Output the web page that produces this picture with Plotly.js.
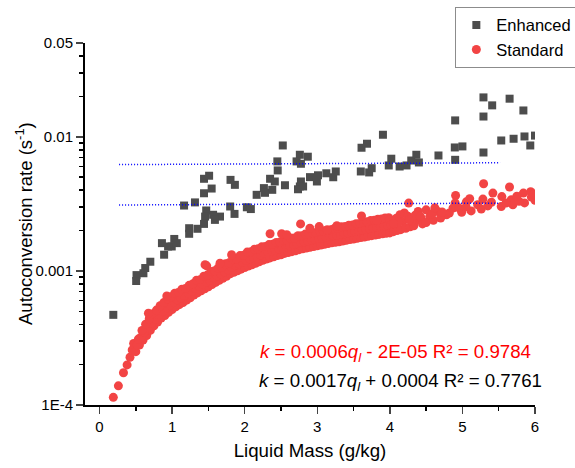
<!DOCTYPE html>
<html>
<head>
<meta charset="utf-8">
<script src="https://cdn.plot.ly/plotly-3.0.1.min.js"></script>
<style>html,body{margin:0;padding:0;background:#fff}#chart{width:575px;height:468px}</style>
</head>
<body>
<div id="chart"></div>
<script>
// Enhanced (grey squares)
const enhancedX = [0.19,0.51,0.505,0.605,0.63,0.70,0.86,0.89,0.945,0.995,
  1.03,1.065,1.235,1.235,1.35,1.165,1.315,1.44,1.545,1.44,
  1.51,1.47,1.455,1.44,1.565,1.66,1.59,1.805,1.865,1.80,
  1.86,2.03,2.085,2.165,2.265,2.28,2.35,2.38,2.415,2.45,
  2.455,2.525,2.555,2.76,2.715,2.87,2.775,2.76,2.735,2.775,
  2.805,2.90,2.995,3.01,3.125,3.22,3.255,3.905,3.61,3.685,
  3.60,3.715,3.75,4.02,3.985,4.135,4.23,4.295,4.365,4.40,
  4.67,4.90,4.895,5.0,4.90,5.29,5.41,5.29,5.29,5.65,
  5.84,5.535,5.705,5.855,5.935,6.0];
const enhancedY = [0.00047,0.00093,0.00084,0.00096,0.00105,0.00117,0.00161,0.00132,0.00152,0.00152,
  0.00173,0.00161,0.00208,0.00189,0.00206,0.00307,0.00324,0.00379,0.00411,0.00486,
  0.00512,0.00282,0.00254,0.00224,0.00262,0.00254,0.0024,0.00477,0.00438,0.00302,
  0.00266,0.00298,0.00289,0.00369,0.00414,0.00382,0.00486,0.00402,0.00464,0.00655,
  0.00561,0.00861,0.00435,0.00734,0.00655,0.0071,0.00629,0.00426,0.00406,0.00464,
  0.00426,0.005,0.00464,0.00516,0.00534,0.00499,0.00551,0.01035,0.00828,0.00887,
  0.00551,0.00542,0.00583,0.00686,0.00611,0.006,0.00611,0.00665,0.00734,0.00643,
  0.00725,0.01324,0.00832,0.00847,0.00673,0.01965,0.01714,0.01415,0.00763,0.01922,
  0.0157,0.00938,0.00966,0.01005,0.00861,0.0102];

// Standard (red circles) - in several groups
const stdEarlyX = [0.19,0.26,0.33,0.38,0.42,0.45,0.47];
const stdEarlyY = [1.14e-4,1.39e-4,1.74e-4,1.99e-4,2.27e-4,2.57e-4,2.88e-4];

const stdLowX = [0.50,0.55,0.60,0.65,0.70,0.75,0.80,0.85,0.90,0.95,
  1.00,1.05,1.10,1.15,1.20,1.25,1.30,1.35,1.40,1.45,
  1.50,1.55,1.60,1.65,1.70,1.75,1.80,1.85,1.90,1.95,
  2.00,2.05,2.10,2.15,2.20,2.25,2.30,2.35,2.40,2.45,
  2.50,2.55,2.60,2.65,2.70,2.75,2.80,2.85,2.90,2.95,
  3.00,3.05,3.10,3.15,3.20,3.25,3.30,3.35,3.40,3.45,
  3.50,3.55,3.60,3.65,3.70,3.75,3.80,3.85,3.90,3.95,4.00];
const stdLowY = [2.5e-4,2.8e-4,3.05e-4,3.3e-4,3.6e-4,3.9e-4,4.15e-4,4.45e-4,4.65e-4,4.9e-4,
  5.15e-4,5.4e-4,5.6e-4,5.8e-4,6.05e-4,6.3e-4,6.6e-4,6.85e-4,7.1e-4,7.35e-4,
  7.6e-4,7.9e-4,8.2e-4,8.5e-4,8.8e-4,9.1e-4,9.5e-4,9.75e-4,10.0e-4,10.3e-4,
  10.6e-4,10.85e-4,11.1e-4,11.4e-4,11.7e-4,12.0e-4,12.25e-4,12.5e-4,12.75e-4,13.0e-4,
  13.2e-4,13.5e-4,13.7e-4,13.9e-4,14.1e-4,14.4e-4,14.6e-4,14.8e-4,15.0e-4,15.2e-4,
  15.4e-4,15.6e-4,15.8e-4,16.0e-4,16.2e-4,16.35e-4,16.5e-4,16.7e-4,16.9e-4,17.1e-4,
  17.3e-4,17.5e-4,17.7e-4,17.9e-4,18.1e-4,18.3e-4,18.5e-4,18.7e-4,18.9e-4,19.05e-4,19.2e-4];

const stdMidX = [0.52,0.57,0.62,0.67,0.72,0.77,0.82,0.87,0.92,0.97,
  1.02,1.07,1.12,1.17,1.22,1.27,1.32,1.37,1.42,1.47,
  1.52,1.57,1.62,1.67,1.72,1.77,1.82,1.87,1.92,1.97,
  2.02,2.07,2.12,2.17,2.22,2.27,2.32,2.37,2.42,2.47,
  2.52,2.57,2.62,2.67,2.72,2.77,2.82,2.87,2.92,2.97,
  3.02,3.07,3.12,3.17,3.22,3.27,3.32,3.37,3.42,3.47,
  3.52,3.57,3.62,3.67,3.72,3.77,3.82,3.87,3.92,3.97];
const stdMidY = [2.8e-4,3.2e-4,3.5e-4,3.8e-4,4.1e-4,4.4e-4,4.7e-4,5.0e-4,5.3e-4,5.55e-4,
  5.85e-4,6.1e-4,6.3e-4,6.55e-4,6.8e-4,7.05e-4,7.4e-4,7.7e-4,7.95e-4,8.25e-4,
  8.55e-4,8.9e-4,9.2e-4,9.5e-4,9.85e-4,10.2e-4,10.65e-4,11.0e-4,11.3e-4,11.65e-4,
  12.0e-4,12.3e-4,12.6e-4,12.9e-4,13.2e-4,13.5e-4,13.8e-4,14.05e-4,14.3e-4,14.6e-4,
  14.85e-4,15.15e-4,15.4e-4,15.7e-4,15.95e-4,16.3e-4,16.5e-4,16.75e-4,16.95e-4,17.15e-4,
  17.4e-4,17.6e-4,17.85e-4,18.05e-4,18.3e-4,18.5e-4,18.7e-4,18.95e-4,19.2e-4,19.45e-4,
  19.7e-4,19.95e-4,20.2e-4,20.45e-4,20.7e-4,20.95e-4,21.2e-4,21.45e-4,21.7e-4,21.9e-4];

const stdHighX = [0.535,0.585,0.635,0.685,0.735,0.785,0.835,0.885,0.935,0.985,
  1.035,1.085,1.135,1.185,1.235,1.285,1.335,1.385,1.435,1.485,
  1.535,1.585,1.635,1.685,1.735,1.785,1.835,1.885,1.935,1.985,
  2.035,2.085,2.135,2.185,2.235,2.285,2.335,2.385,2.435,2.485,
  2.535,2.585,2.635,2.685,2.735,2.785,2.835,2.885,2.935,2.985,
  3.035,3.085,3.135,3.185,3.235,3.285,3.335,3.385,3.435,3.485,
  3.535,3.585,3.635,3.685,3.735,3.785,3.835,3.885,3.935,3.985];
const stdHighY = [3.1e-4,3.6e-4,4.0e-4,4.4e-4,4.8e-4,5.1e-4,5.5e-4,5.8e-4,6.2e-4,6.4e-4,
  6.8e-4,6.9e-4,7.3e-4,7.4e-4,7.8e-4,8.0e-4,8.5e-4,8.6e-4,9.1e-4,9.3e-4,
  9.9e-4,10.0e-4,10.5e-4,10.6e-4,11.3e-4,11.5e-4,12.2e-4,12.3e-4,13.0e-4,13.1e-4,
  13.8e-4,13.9e-4,14.5e-4,14.6e-4,15.1e-4,15.2e-4,15.7e-4,15.8e-4,16.3e-4,16.4e-4,
  16.9e-4,17.0e-4,17.6e-4,17.6e-4,18.3e-4,18.3e-4,18.8e-4,18.8e-4,19.2e-4,19.3e-4,
  19.7e-4,19.8e-4,20.2e-4,20.3e-4,20.7e-4,20.8e-4,21.3e-4,21.4e-4,21.9e-4,22.0e-4,
  22.5e-4,22.6e-4,23.1e-4,23.2e-4,23.7e-4,23.8e-4,24.3e-4,24.4e-4,24.8e-4,24.9e-4];

const stdOutX = [0.674,0.927,1.454,1.477,1.66,1.82,2.35,2.509,2.58,2.77,2.898,3.026,3.136,3.27,3.61,3.82,4.26];
const stdOutY = [4.83e-4,6.5e-4,1.11e-3,1.09e-3,1.14e-3,1.32e-3,1.89e-3,1.89e-3,1.86e-3,2.24e-3,2.08e-3,2.14e-3,2.02e-3,2.17e-3,2.57e-3,2.37e-3,3.2e-3];

const stdTailX = [5.292,5.649,4.906,5.42,5.543,5.84,5.94,5.054,5.282,5.673,
  5.695,5.856,6.0,4.90,5.21,5.40,5.535,5.26,5.12,4.99,
  4.87,4.82,4.78,4.66,4.55,4.50,4.39,4.37,4.43,4.20,
  4.14,4.0,4.02,4.18,4.09,4.05,4.1,4.15,4.22,4.28,
  4.33,4.45,4.5,4.6,4.7,4.3,4.25,4.12,4.05,4.35,
  4.58,4.72,4.95,5.05,5.35,5.6,5.78,5.95,5.75,5.98,
  5.1,4.62,4.42,4.27];
const stdTailY = [4.46e-3,4.22e-3,3.65e-3,3.8e-3,3.58e-3,3.8e-3,3.89e-3,3.27e-3,3.43e-3,3.39e-3,
  3.11e-3,3.21e-3,3.36e-3,3.21e-3,3.11e-3,3.25e-3,3.02e-3,2.89e-3,2.8e-3,2.73e-3,
  2.94e-3,2.7e-3,2.62e-3,2.77e-3,2.54e-3,2.85e-3,2.77e-3,2.4e-3,2.47e-3,2.7e-3,
  2.62e-3,2.4e-3,2.2e-3,2.33e-3,2.47e-3,1.96e-3,2.0e-3,2.03e-3,2.08e-3,2.13e-3,
  2.17e-3,2.24e-3,2.29e-3,2.38e-3,2.48e-3,2.35e-3,2.55e-3,2.3e-3,2.25e-3,2.6e-3,
  2.65e-3,2.75e-3,2.95e-3,3.0e-3,3.05e-3,3.2e-3,3.3e-3,3.55e-3,3.6e-3,3.75e-3,
  3.45e-3,2.95e-3,2.55e-3,2.4e-3];

// reference lines (blue dotted)
const refUpperX = [0.27, 5.52];
const refUpperY = [0.0062, 0.0064];
const refLowerX = [0.27, 5.52];
const refLowerY = [0.0031, 0.0032];

const xTicks = [0,1,2,3,4,5,6];
const yTickVals = [1e-4, 0.001, 0.01, 0.05];
const yTickText = ['1E-4', '0.001', '0.01', '0.05'];

const standardX = [].concat(stdEarlyX, stdLowX, stdMidX, stdHighX, stdOutX, stdTailX);
const standardY = [].concat(stdEarlyY, stdLowY, stdMidY, stdHighY, stdOutY, stdTailY);

const yMinor = [];
[1e-4, 1e-3, 1e-2].forEach(function(d){ for (let m = 2; m <= 9; m++) { if (m*d < 0.05) yMinor.push(m*d); } });
const xMinor = [0.5,1.5,2.5,3.5,4.5,5.5];

const font = 'Arial, "Liberation Sans", sans-serif';

const data = [
  {x: enhancedX, y: enhancedY, type: 'scatter', mode: 'markers', name: 'Enhanced',
   marker: {symbol: 'square', size: 8, color: '#4d4d4d'}},
  {x: standardX, y: standardY, type: 'scatter', mode: 'markers', name: 'Standard',
   marker: {symbol: 'circle', size: 9, color: '#f24444'}},
  {x: refUpperX, y: refUpperY, type: 'scatter', mode: 'lines', showlegend: false, hoverinfo: 'skip',
   line: {color: '#0000ff', width: 1.5, dash: '1px,2px'}},
  {x: refLowerX, y: refLowerY, type: 'scatter', mode: 'lines', showlegend: false, hoverinfo: 'skip',
   line: {color: '#0000ff', width: 1.5, dash: '1px,2px'}}
];

const layout = {
  width: 575, height: 468,
  margin: {l: 85, r: 40, t: 43, b: 63, autoexpand: false},
  paper_bgcolor: '#fff', plot_bgcolor: '#fff',
  font: {family: font, color: '#000', size: 15},
  showlegend: true,
  legend: {x: 0.823, y: 1.1, xanchor: 'left', yanchor: 'top', bgcolor: '#fff',
    bordercolor: '#8c8c8c', borderwidth: 1, font: {size: 16.5, family: font}, tracegroupgap: 0},
  xaxis: {
    range: [-0.2, 6], tickmode: 'array', tickvals: xTicks, ticks: 'outside', ticklen: 7, tickwidth: 1.5,
    showline: true, linewidth: 2, linecolor: '#000', showgrid: false, zeroline: false,
    tickfont: {size: 15, family: font},
    minor: {tickmode: 'array', tickvals: xMinor, ticks: 'outside', ticklen: 4, tickwidth: 1.5, tickcolor: '#000', showgrid: false},
    title: {text: 'Liquid Mass (g/kg)', font: {size: 18.7, family: font}, standoff: 10},
    automargin: false
  },
  yaxis: {
    type: 'log', range: [-4, Math.log10(0.05)], tickmode: 'array', tickvals: yTickVals, ticktext: yTickText,
    ticks: 'outside', ticklen: 7, tickwidth: 1.5,
    showline: true, linewidth: 2, linecolor: '#000', showgrid: false, zeroline: false,
    tickfont: {size: 15, family: font},
    minor: {tickmode: 'array', tickvals: yMinor, ticks: 'outside', ticklen: 4, tickwidth: 1.5, tickcolor: '#000', showgrid: false},
    automargin: false
  },
  annotations: [
    {xref: 'paper', yref: 'paper', x: (24 - 85) / 450, y: 0.5, xanchor: 'center', yanchor: 'middle', showarrow: false,
     textangle: -90, text: 'Autoconversion rate (s<sup>-1</sup>)', font: {size: 18.5, color: '#000', family: font}},
    {xref: 'paper', yref: 'paper', x: 0.691, y: 0.1436, xanchor: 'center', yanchor: 'middle', showarrow: false,
     text: '<i>k</i> = 0.0006<i>q</i><sub><i>l</i></sub> - 2E-05 R² = 0.9784', font: {size: 18.7, color: '#ff0000', family: font}},
    {xref: 'paper', yref: 'paper', x: 0.701, y: 0.0635, xanchor: 'center', yanchor: 'middle', showarrow: false,
     text: '<i>k</i> = 0.0017<i>q</i><sub><i>l</i></sub> + 0.0004 R² = 0.7761', font: {size: 18.7, color: '#000', family: font}}
  ]
};

Plotly.newPlot('chart', data, layout, {displayModeBar: false, staticPlot: true});
</script>
</body>
</html>
